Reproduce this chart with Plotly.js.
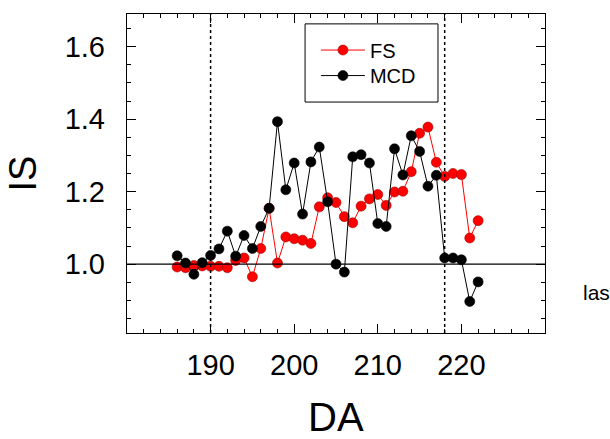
<!DOCTYPE html>
<html>
<head>
<meta charset="utf-8">
<script src="https://cdn.plot.ly/plotly-3.0.1.min.js"></script>
<style>html,body{margin:0;padding:0;background:#fff;}#chart{width:610px;height:439px;}</style>
</head>
<body>
<div id="chart"></div>
<script>
// Day of analysis (DA)
const daysFS  = [186,187,188,189,190,191,192,193,194,195,196,197,198,199,200,201,202,203,204,205,206,207,208,209,210,211,212,213,214,215,216,217,218,219,220,221,222];
const valuesFS = [0.992,0.990,0.996,0.995,0.994,0.994,0.990,1.010,1.017,0.965,1.043,1.154,1.003,1.075,1.070,1.066,1.057,1.158,1.183,1.170,1.131,1.114,1.160,1.180,1.192,1.162,1.199,1.201,1.255,1.361,1.378,1.281,1.242,1.250,1.247,1.072,1.120];
const daysMCD = [186,187,188,189,190,191,192,193,194,195,196,197,198,199,200,201,202,203,204,205,206,207,208,209,210,211,212,213,214,215,216,217,218,219,220,221,222];
const valuesMCD = [1.023,1.003,0.972,1.004,1.024,1.042,1.091,1.022,1.079,1.043,1.104,1.154,1.393,1.205,1.279,1.138,1.282,1.323,1.172,1.000,0.978,1.296,1.302,1.279,1.112,1.104,1.318,1.246,1.354,1.311,1.215,1.245,1.017,1.017,1.012,0.897,0.951];
const seriesNames = ["FS", "MCD"];
const xTickVals = [190, 200, 210, 220];
const yTickVals = [1.0, 1.2, 1.4, 1.6];
const markerDays = [190, 218];
const baseline = 1.0;
const xTitle = "DA";
const yTitle = "IS";
const sideNote = "las";

const font = "Liberation Sans, Arial, Helvetica, sans-serif";

const traces = [
  {
    x: daysFS, y: valuesFS, name: seriesNames[0], type: "scatter", mode: "lines+markers",
    legend: "legend",
    line: {color: "#ff0000", width: 1},
    marker: {color: "#ff0000", size: 10, line: {color: "#a00000", width: 0.6}}
  },
  {
    x: daysMCD, y: valuesMCD, name: seriesNames[1], type: "scatter", mode: "lines+markers",
    legend: "legend2",
    line: {color: "#000000", width: 1},
    marker: {color: "#000000", size: 10, line: {color: "#000000", width: 0.6}}
  }
];

const shapes = [
  {type: "line", xref: "paper", x0: 0, x1: 1, yref: "y", y0: baseline, y1: baseline,
   line: {color: "#000", width: 1.3}},
  // legend frame
  {type: "rect", xref: "paper", yref: "paper", x0: 0.426, x1: 0.744, y0: 0.724, y1: 0.969,
   line: {color: "#000", width: 1}, fillcolor: "rgba(255,255,255,1)", layer: "below"}
].concat(markerDays.map(d => ({
  type: "line", xref: "x", x0: d, x1: d, yref: "paper", y0: 0, y1: 1,
  line: {color: "#000", width: 1.5, dash: "dot"}
})));

const legendBase = {
  xanchor: "left", yanchor: "middle",
  bgcolor: "rgba(0,0,0,0)", borderwidth: 0,
  font: {size: 20, family: font},
  itemwidth: 44
};

const layout = {
  width: 610, height: 439,
  margin: {l: 127, r: 65, t: 14, b: 106},
  paper_bgcolor: "#fff", plot_bgcolor: "#fff",
  font: {family: font, color: "#000"},
  showlegend: true,
  legend: Object.assign({}, legendBase, {x: 0.452, y: 0.887}),
  legend2: Object.assign({}, legendBase, {x: 0.452, y: 0.807}),
  xaxis: {
    range: [180, 230], tickmode: "array", tickvals: xTickVals,
    ticks: "inside", ticklen: 9, tickwidth: 1, tickcolor: "#000",
    showline: true, linecolor: "#000", linewidth: 1.2, mirror: "ticks",
    showgrid: false, zeroline: false,
    tickfont: {size: 29, family: font}, ticklabelstandoff: 6,
    minor: {tickmode: "linear", tick0: 180, dtick: 2, ticks: "inside", ticklen: 4, tickcolor: "#000", showgrid: false}
  },
  yaxis: {
    range: [0.81, 1.69], tickmode: "array", tickvals: yTickVals,
    ticktext: yTickVals.map(v => v.toFixed(1)),
    ticks: "inside", ticklen: 9, tickwidth: 1, tickcolor: "#000",
    showline: true, linecolor: "#000", linewidth: 1.2, mirror: "ticks",
    showgrid: false, zeroline: false,
    tickfont: {size: 29, family: font}, ticklabelstandoff: 15,
    minor: {tickmode: "linear", tick0: 0.8, dtick: 0.05, ticks: "inside", ticklen: 4, tickcolor: "#000", showgrid: false},
    title: {text: yTitle, font: {size: 38, family: font}, standoff: 16}
  },
  shapes: shapes,
  annotations: [
    {text: xTitle, xref: "paper", yref: "paper", x: 0.5, y: -0.262, xanchor: "center", yanchor: "middle",
     showarrow: false, font: {size: 40, family: font, color: "#000"}},
    {text: sideNote, xref: "paper", yref: "paper", x: 1.085, y: 0.128, xanchor: "left", yanchor: "middle",
     showarrow: false, font: {size: 21, family: font, color: "#000"}}
  ]
};

Plotly.newPlot("chart", traces, layout, {displayModeBar: false, staticPlot: true});
</script>
</body>
</html>
